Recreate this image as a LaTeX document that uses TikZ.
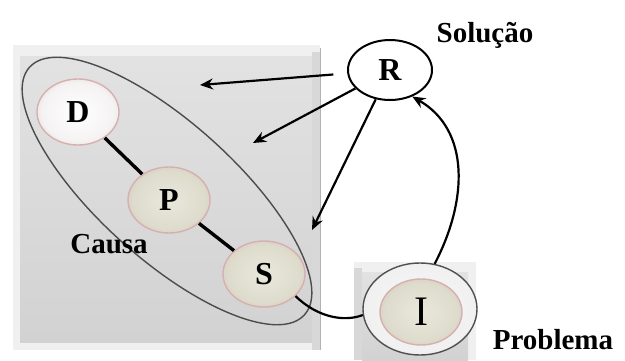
\documentclass[tikz,border=0pt]{standalone}
\usepackage{fontspec}
\setmainfont{Liberation Serif}
\usetikzlibrary{arrows.meta,shapes.geometric}

\definecolor{bevel}{RGB}{240,240,240}
\definecolor{boxtop}{RGB}{226,226,226}
\definecolor{boxbot}{RGB}{210,210,210}
\definecolor{boxedge}{RGB}{178,178,178}
\definecolor{ballrim}{RGB}{214,176,176}
\definecolor{ringrim}{RGB}{80,80,80}

\pgfdeclareradialshading{dball}{\pgfpoint{0bp}{0bp}}{rgb(0bp)=(1,1,1); rgb(22bp)=(0.96,0.95,0.95); rgb(36bp)=(0.86,0.80,0.80); rgb(50bp)=(0.74,0.60,0.60)}
\pgfdeclareradialshading{pball}{\pgfpoint{0bp}{0bp}}{rgb(0bp)=(0.91,0.91,0.86); rgb(22bp)=(0.87,0.86,0.80); rgb(36bp)=(0.80,0.75,0.69); rgb(50bp)=(0.72,0.60,0.56)}
\pgfdeclareradialshading{ringball}{\pgfpoint{0bp}{0bp}}{rgb(0bp)=(0.97,0.97,0.97); rgb(35bp)=(0.93,0.93,0.93); rgb(50bp)=(0.86,0.86,0.86)}

\begin{document}
\begin{tikzpicture}[
  x=1pt, y=-1pt,
  ball/.style={ellipse, draw=ballrim, line width=1.4pt, minimum width=82pt, minimum height=66pt,
    shade, shading=#1, font=\fontsize{32}{32}\selectfont\bfseries},
  tag/.style={font=\fontsize{29}{30}\selectfont\bfseries},
  arr/.style={-{Stealth[length=13pt,width=11pt]}, line width=2.2pt},
  link/.style={line width=3.4pt}
]
\useasboundingbox (0,0) rectangle (625,360);

% bevelled boxes
\fill[bevel] (13,45) rectangle (320,350);
\shade[top color=boxtop, bottom color=boxbot] (20,56) rectangle (312,342);
\fill[boxedge!50] (312,52) rectangle (320,350);
\draw[boxedge, line width=0.8pt] (320,48) -- (320,350);
\fill[bevel] (354,262) rectangle (476,360);
\shade[top color=boxtop, bottom color=boxbot] (362,272) rectangle (468,360);
\fill[boxedge!50] (354,268) rectangle (362,360);

% cause group
\node[ellipse, draw=black!70, line width=1.4pt, minimum width=370pt, minimum height=136pt,
  rotate=-42] (group) at (167,191) {};
\node[ball=dball] (D) at (78,112) {D};
\node[ball=pball] (P) at (169,200) {P};
\node[ball=pball] (S) at (264,274) {S};
\node[tag] (causa) at (109,244) {Causa};

% solution and problem
\node[ellipse, draw, fill=white, line width=2pt, minimum width=84pt, minimum height=60pt,
  font=\fontsize{32}{32}\selectfont\bfseries] (R) at (390,70) {R};
\node[tag] (sol) at (485,35) {Solução};
\node[ellipse, draw=ringrim, line width=1.4pt, minimum width=114pt, minimum height=92pt,
  shade, shading=ringball] (ring) at (420,309) {};
\node[ball=pball, font=\fontsize{42}{42}\selectfont] (I) at (421,312) {I};
\node[tag] (prob) at (553,340) {Problema};

% arrow targets
\coordinate (t1) at (200,85);
\coordinate (t2) at (253,143);
\coordinate (t3) at (312,230);

\draw[link] (D) -- (P);
\draw[link] (P) -- (S);
\draw[arr, shorten <=14pt] (R) -- (t1);
\draw[arr] (R) -- (t2);
\draw[arr] (R) -- (t3);
\draw[arr] (ring.72) .. controls (468,200) and (470,130) .. (R.-50);
\draw[line width=2.2pt] (S.-35) .. controls (318,318) and (345,322) .. (ring.186);
\end{tikzpicture}
\end{document}
